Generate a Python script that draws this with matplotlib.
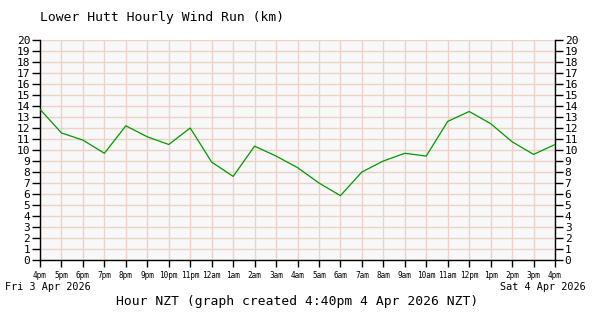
import matplotlib
matplotlib.use("Agg")
import matplotlib.pyplot as plt
import numpy as np

# hourly wind run, 4pm Fri -> 4pm Sat
hour_labels = ["4pm", "5pm", "6pm", "7pm", "8pm", "9pm", "10pm", "11pm", "12am",
               "1am", "2am", "3am", "4am", "5am", "6am", "7am", "8am", "9am",
               "10am", "11am", "12pm", "1pm", "2pm", "3pm", "4pm"]
wind_run = [13.7, 11.55, 10.9, 9.7, 12.2, 11.2, 10.5, 12.0, 8.9,
            7.6, 10.35, 9.45, 8.4, 7.0, 5.85, 8.0, 9.0, 9.7,
            9.45, 12.6, 13.5, 12.4, 10.75, 9.6, 10.5]
y_ticks = list(range(0, 21))

mono = "DejaVu Sans Mono"
grid_col = "#ebd3c8"

fig = plt.figure(figsize=(6, 3.2), dpi=100)
ax = fig.add_axes([40/600, 1-260/320, 515/600, 220/320])
ax.set_facecolor("#f8f8f8")

x = np.arange(len(wind_run))
ax.plot(x, wind_run, color="#009900", lw=0.9, zorder=3)

ax.set_xlim(0, len(hour_labels) - 1)
ax.set_ylim(0, 20)
ax.set_xticks(x)
ax.set_xticklabels(hour_labels, fontsize=5.6, family=mono)
ax.set_yticks(y_ticks)
ax.set_yticklabels([str(v) for v in y_ticks], fontsize=8, family=mono)
ax.grid(True, color=grid_col, lw=1.0, zorder=0)
ax.set_axisbelow(True)

ax.tick_params(axis="y", which="both", left=True, right=True, labelleft=True,
               labelright=True, direction="out", length=6, width=1, pad=1,
               colors="black")
ax.tick_params(axis="x", direction="out", length=5, width=1, pad=3)
ax.spines["top"].set_visible(False)
for s in ["left", "right", "bottom"]:
    ax.spines[s].set_linewidth(1)

fig.text(40/600, 1-18/320, "Lower Hutt Hourly Wind Run (km)", family=mono,
         fontsize=9.4, va="center", ha="left")
fig.text(5/600, 1-287/320, "Fri 3 Apr 2026", family=mono, fontsize=7.3,
         va="center", ha="left")
fig.text(586/600, 1-287/320, "Sat 4 Apr 2026", family=mono, fontsize=7.3,
         va="center", ha="right")
fig.text(297/600, 1-302/320, "Hour NZT (graph created 4:40pm 4 Apr 2026 NZT)",
         family=mono, fontsize=9.4, va="center", ha="center")

fig.savefig("out.png", dpi=100)
